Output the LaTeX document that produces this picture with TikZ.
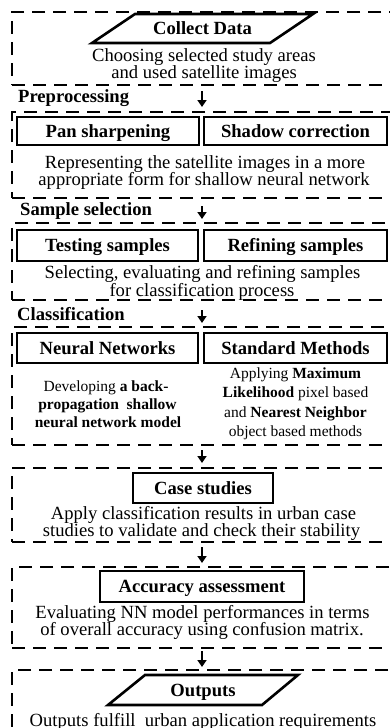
\documentclass[tikz,border=0pt]{standalone}
\usepackage{fontspec}
\setmainfont{Liberation Serif}
\usetikzlibrary{arrows.meta}
\newcommand{\myfs}{\fontsize{18.6}{20}\selectfont}
\newcommand{\mysm}{\fontsize{15.5}{17}\selectfont}
\begin{document}
\begin{tikzpicture}[x=1pt,y=-1pt,
  dbox/.style={draw, line width=2pt, dash pattern=on 13pt off 8pt, rectangle, inner sep=0pt, outer sep=0pt, anchor=north west, minimum width=400pt},
  sbox/.style={draw, line width=2.6pt, rectangle, inner sep=0pt, outer sep=0pt, font=\bfseries\myfs, text height=12.3pt, text depth=0pt},
  para/.style={draw, line width=2.6pt, line join=miter},
  ptext/.style={inner sep=0pt, font=\bfseries\myfs, text height=12.3pt, text depth=0pt},
  body/.style={anchor=base, inner sep=0pt, font=\myfs},
  small/.style={anchor=base, inner sep=0pt, font=\mysm},
  lab/.style={anchor=base west, inner sep=0pt, font=\bfseries\myfs},
  arr/.style={line width=1.8pt, -{Triangle[length=7pt,width=9pt]}}
]
\useasboundingbox (0,0) rectangle (390,728);
\clip (0,0) rectangle (390,728);

% dashed group boxes
\node[dbox, minimum height=73pt]  (B1) at (12,12)  {};
\node[dbox, minimum height=86pt]  (B2) at (12,112) {};
\node[dbox, minimum height=77pt]  (B3) at (12,223) {};
\node[dbox, minimum height=118pt] (B4) at (12,327) {};
\node[dbox, minimum height=74pt]  (B5) at (12,468) {};
\node[dbox, minimum height=81pt]  (B6) at (12,567) {};
\node[dbox, minimum height=80pt]  (B7) at (12,670) {};

% Collect Data
\draw[para] (135,14) -- (313,14) -- (270,43) -- (92,43) -- cycle;
\node[ptext] (collect) at (202.5,28.5) {Collect Data};
\node[body] (c1) at (204,61.7) {Choosing selected study areas};
\node[body] (c2) at (204,78.3) {and used satellite images};

% Preprocessing
\node[lab] (lpre) at (18,102.7) {Preprocessing};
\node[sbox, minimum width=182pt, minimum height=28pt] (pan) at (108,131) {Pan sharpening};
\node[sbox, minimum width=183pt, minimum height=28pt] (shadow) at (295.5,131) {Shadow correction};
\node[body] (p1) at (205,168) {Representing the satellite images in a more};
\node[body] (p2) at (204,185) {appropriate form for shallow neural network};

% Sample selection
\node[lab] (lsam) at (20,215) {Sample selection};
\node[sbox, minimum width=181pt, minimum height=31pt] (test) at (107.5,245.5) {Testing samples};
\node[sbox, minimum width=183pt, minimum height=31pt] (refine) at (295.5,245.5) {Refining samples};
\node[body] (s1) at (202.5,278) {Selecting, evaluating and refining samples};
\node[body] (s2) at (202,296) {for classification process};

% Classification
\node[lab] (lcla) at (17,320.5) {Classification};
\node[sbox, minimum width=181pt, minimum height=30pt] (nn) at (107.5,348) {Neural Networks};
\node[sbox, minimum width=183pt, minimum height=30pt] (std) at (295.5,348) {Standard Methods};
\node[small] (n1) at (106,391) {Developing \textbf{a back-}};
\node[small] (n2) at (107.5,409) {\textbf{propagation\hspace{0.5em}shallow}};
\node[small] (n3) at (108,427) {\textbf{neural network model}};
\node[small] (m1) at (295.5,378) {Applying \textbf{Maximum}};
\node[small] (m2) at (295.5,397.5) {\textbf{Likelihood} pixel based};
\node[small] (m3) at (295.5,417) {and \textbf{Nearest Neighbor}};
\node[small] (m4) at (295.5,436) {object based methods};

% Case studies
\node[sbox, minimum width=140pt, minimum height=30pt] (case) at (203,488) {Case studies};
\node[body] (k1) at (203.5,519) {Apply classification results in urban case};
\node[body] (k2) at (201.5,536) {studies to validate and check their stability};

% Accuracy assessment
\node[sbox, minimum width=204pt, minimum height=31pt] (acc) at (202,586.5) {Accuracy assessment};
\node[body] (e1) at (202.5,618) {Evaluating NN model performances in terms};
\node[body] (e2) at (202,635) {of overall accuracy using confusion matrix.};

% Outputs
\draw[para] (145,675) -- (298,675) -- (262,705) -- (108,705) -- cycle;
\node[ptext] (out) at (203,690) {Outputs};
\node[body] (o1) at (203,726) {Outputs fulfill\hspace{0.5em}urban application requirements};

% arrows
\coordinate (a1s) at (202,91);  \coordinate (a1e) at (202,107);
\coordinate (a2s) at (202,206); \coordinate (a2e) at (202,219);
\coordinate (a3s) at (202,310); \coordinate (a3e) at (202,323);
\coordinate (a4s) at (202,450); \coordinate (a4e) at (202,463);
\coordinate (a5s) at (202,547); \coordinate (a5e) at (202,563);
\coordinate (a6s) at (202,651); \coordinate (a6e) at (202,667);
\draw[arr] (a1s) -- (a1e);
\draw[arr] (a2s) -- (a2e);
\draw[arr] (a3s) -- (a3e);
\draw[arr] (a4s) -- (a4e);
\draw[arr] (a5s) -- (a5e);
\draw[arr] (a6s) -- (a6e);
\end{tikzpicture}
\end{document}
